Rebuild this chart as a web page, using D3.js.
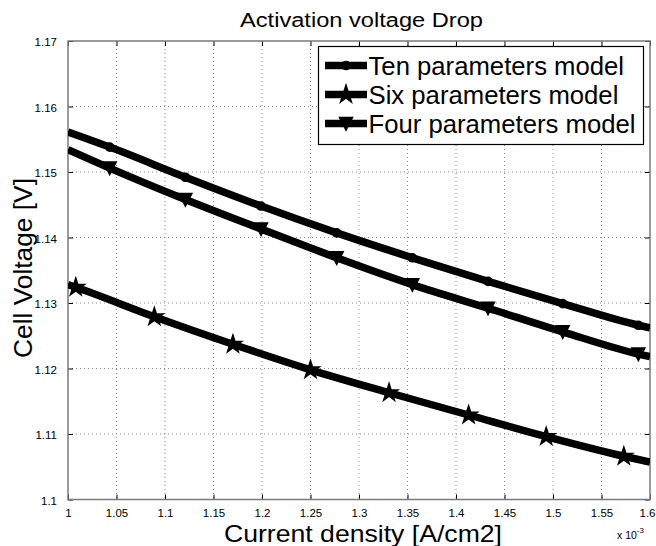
<!DOCTYPE html>
<html>
<head>
<meta charset="utf-8">
<script src="https://cdn.jsdelivr.net/npm/d3@7"></script>
<style>
html,body{margin:0;padding:0;background:#fff;}
svg{display:block;}
text{font-family:"Liberation Sans",Arial,Helvetica,sans-serif;fill:#000;}
</style>
</head>
<body>
<svg id="chart" width="656" height="546"></svg>
<script>
// ---- data (x in units of 1e-3 A/cm2, y in V) ----
const tenX  = [1, 1.043, 1.121, 1.199, 1.277, 1.355, 1.433, 1.510, 1.588, 1.6];
const tenY  = [1.1561, 1.1538, 1.1492, 1.1448, 1.1407, 1.1369, 1.1333, 1.1299, 1.1266, 1.1262];
const sixX  = [1, 1.008, 1.089, 1.170, 1.250, 1.331, 1.413, 1.493, 1.573, 1.6];
const sixY  = [1.1328, 1.1324, 1.1279, 1.1237, 1.1198, 1.1163, 1.1129, 1.1096, 1.1066, 1.1057];
const fourX = [1, 1.043, 1.121, 1.199, 1.277, 1.355, 1.433, 1.510, 1.588, 1.6];
const fourY = [1.1534, 1.1506, 1.1458, 1.1413, 1.1369, 1.1328, 1.1292, 1.1256, 1.1222, 1.1218];

const seriesNames = ["Ten parameters model", "Six parameters model", "Four parameters model"];
const xTickValues = [1, 1.05, 1.1, 1.15, 1.2, 1.25, 1.3, 1.35, 1.4, 1.45, 1.5, 1.55, 1.6];
const xTickLabels = ["1","1.05","1.1","1.15","1.2","1.25","1.3","1.35","1.4","1.45","1.5","1.55","1.6"];
const yTickValues = [1.1, 1.11, 1.12, 1.13, 1.14, 1.15, 1.16, 1.17];
const yTickLabels = ["1.1","1.11","1.12","1.13","1.14","1.15","1.16","1.17"];

const titleText = "Activation voltage Drop";
const xLabelText = "Current density [A/cm2]";
const yLabelText = "Cell Voltage [V]";

// ---- layout ----
const L = 68, R = 650, T = 41, B = 499.5;
const svg = d3.select("#chart");
const x = d3.scaleLinear().domain([1, 1.6]).range([L, R]);
const y = d3.scaleLinear().domain([1.1, 1.17]).range([B, T]);

// grid (dotted)
const grid = svg.append("g").attr("stroke", "#8a8a8a").attr("stroke-width", 1).attr("stroke-dasharray", "1,3");
xTickValues.slice(1, -1).forEach(v => {
  grid.append("line").attr("x1", x(v)).attr("x2", x(v)).attr("y1", T).attr("y2", B);
});
yTickValues.slice(1, -1).forEach(v => {
  grid.append("line").attr("x1", L).attr("x2", R).attr("y1", y(v)).attr("y2", y(v));
});

// axes with inward ticks on all four sides
const tickLen = 5;
const axB = svg.append("g").attr("transform", `translate(0,${B})`)
  .call(d3.axisBottom(x).tickValues(xTickValues).tickSizeInner(-tickLen).tickSizeOuter(0)
    .tickFormat((d, i) => xTickLabels[i]).tickPadding(9));
const axT = svg.append("g").attr("transform", `translate(0,${T})`)
  .call(d3.axisTop(x).tickValues(xTickValues).tickSizeInner(-tickLen).tickSizeOuter(0).tickFormat(""));
const axL = svg.append("g").attr("transform", `translate(${L},0)`)
  .call(d3.axisLeft(y).tickValues(yTickValues).tickSizeInner(-tickLen).tickSizeOuter(0)
    .tickFormat((d, i) => yTickLabels[i]).tickPadding(11));
const axR = svg.append("g").attr("transform", `translate(${R},0)`)
  .call(d3.axisRight(y).tickValues(yTickValues).tickSizeInner(-tickLen).tickSizeOuter(0).tickFormat(""));
[axB, axT, axL, axR].forEach(a => {
  a.select(".domain").remove();
  a.selectAll(".tick line").attr("stroke", "#000").attr("stroke-width", 1);
  a.selectAll("text").attr("font-size", 11.5).attr("font-family", "Liberation Sans, Arial, sans-serif").attr("fill", "#000");
});
axB.selectAll("text").attr("dy", "0.71em");
axL.selectAll("text").attr("dy", "0.4em");
// keep the last x tick label inside the picture
axB.selectAll(".tick text").filter((d, i) => i === xTickValues.length - 1)
  .attr("text-anchor", "end").attr("x", 655 - R);

// frame
svg.append("rect").attr("x", L).attr("y", T).attr("width", R - L).attr("height", B - T)
  .attr("fill", "none").attr("stroke", "#7a7a7a").attr("stroke-width", 1.5);

// exponent label
const expT = svg.append("text").attr("x", 617).attr("y", 539).attr("font-size", 10.5);
expT.append("tspan").text("x 10");
expT.append("tspan").attr("dy", -6).attr("font-size", 8).text("-3");

// clip
svg.append("defs").append("clipPath").attr("id", "plotclip")
  .append("rect").attr("x", L).attr("y", T).attr("width", R - L).attr("height", B - T);

const lineW = 7.5;
const lineGen = d3.line().x(d => x(d[0])).y(d => y(d[1])).curve(d3.curveMonotoneX);
const plot = svg.append("g").attr("clip-path", "url(#plotclip)");

const series = [
  {xs: tenX, ys: tenY, marker: "dot"},
  {xs: sixX, ys: sixY, marker: "star"},
  {xs: fourX, ys: fourY, marker: "tri"}
];

const starPath = d3.symbol().type(d3.symbolStar).size(95)();
const triPath = "M-6.5,-6L6.5,-6L0,6.5Z";

function drawMarker(g, kind, cx, cy) {
  if (kind === "dot") {
    g.append("circle").attr("cx", cx).attr("cy", cy).attr("r", 4.8).attr("fill", "#000");
  } else if (kind === "star") {
    g.append("path").attr("d", starPath).attr("transform", `translate(${cx},${cy})`)
      .attr("fill", "#000").attr("stroke", "#000").attr("stroke-width", 1.5).attr("stroke-linejoin", "miter");
  } else {
    g.append("path").attr("d", triPath).attr("transform", `translate(${cx},${cy})`)
      .attr("fill", "#000").attr("stroke", "#000").attr("stroke-width", 1.5);
  }
}

series.forEach(s => {
  const pts = s.xs.map((v, i) => [v, s.ys[i]]);
  plot.append("path").attr("d", lineGen(pts)).attr("fill", "none")
    .attr("stroke", "#000").attr("stroke-width", lineW);
  pts.slice(1, -1).forEach(p => drawMarker(plot, s.marker, x(p[0]), y(p[1])));
});

// legend
const lg = svg.append("g");
lg.append("rect").attr("x", 318.5).attr("y", 46.5).attr("width", 325).attr("height", 98)
  .attr("fill", "#fff").attr("stroke", "#000").attr("stroke-width", 1.2);
const rowBase = [75, 104, 133];
series.forEach((s, i) => {
  const cy = rowBase[i] - 9.5;
  lg.append("line").attr("x1", 325).attr("x2", 367).attr("y1", cy).attr("y2", cy)
    .attr("stroke", "#000").attr("stroke-width", lineW);
  drawMarker(lg, s.marker, 346, cy);
  lg.append("text").attr("x", 368.5).attr("y", rowBase[i]).attr("font-size", 25.7).text(seriesNames[i]);
});

// title and axis labels
svg.append("text").attr("x", 361.5).attr("y", 26.7).attr("text-anchor", "middle")
  .attr("font-size", 20).attr("textLength", 243).attr("lengthAdjust", "spacingAndGlyphs").text(titleText);
svg.append("text").attr("x", 363).attr("y", 541.5).attr("text-anchor", "middle")
  .attr("font-size", 24).attr("textLength", 278).attr("lengthAdjust", "spacingAndGlyphs").text(xLabelText);
svg.append("text").attr("transform", "translate(31.5,268) rotate(-90)").attr("text-anchor", "middle")
  .attr("font-size", 26).attr("textLength", 180).attr("lengthAdjust", "spacingAndGlyphs").text(yLabelText);
</script>
</body>
</html>
